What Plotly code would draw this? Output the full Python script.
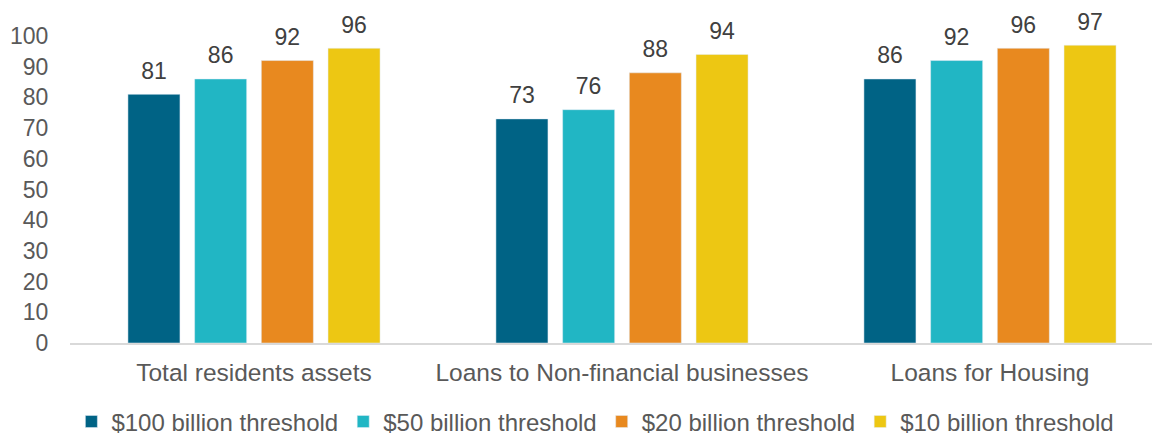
import plotly.graph_objects as go

categories = ["Total residents assets", "Loans to Non-financial businesses", "Loans for Housing"]
series_names = ["$100 billion threshold", "$50 billion threshold", "$20 billion threshold", "$10 billion threshold"]
v100 = [81, 73, 86]
v50 = [86, 76, 92]
v20 = [92, 88, 96]
v10 = [96, 94, 97]
colors = ["#006385", "#21B6C4", "#E8891F", "#EDC713"]

FONT = "Liberation Sans, Arial"
BARGAP = 0.275

fig = go.Figure()
for name, vals, col in zip(series_names, [v100, v50, v20, v10], colors):
    fig.add_trace(go.Bar(
        x=categories, y=vals, name=name, marker_color=col,
        offsetgroup=name, hoverinfo="x+y+name",
    ))
for name, vals in zip(series_names, [v100, v50, v20, v10]):
    fig.add_trace(go.Scatter(
        x=categories, y=vals, mode="markers+text", showlegend=False,
        offsetgroup=name,
        marker=dict(size=14, opacity=0),
        text=[str(v) for v in vals], textposition="top center",
        textfont=dict(size=23, color="#404040", family=FONT),
        cliponaxis=False, hoverinfo="skip",
    ))

fig.update_layout(
    width=1152, height=427,
    margin=dict(l=62, r=0, t=28, b=92, autoexpand=False),
    paper_bgcolor="white", plot_bgcolor="white",
    barmode="group", bargap=BARGAP, bargroupgap=0.22,
    scattermode="group", scattergap=BARGAP,
    font=dict(family=FONT, size=23, color="#595959"),
    showlegend=True,
    legend=dict(orientation="h", x=0.482, xanchor="center", y=-0.257, yanchor="middle",
                font=dict(size=24, color="#595959"), traceorder="normal",
                itemwidth=30, tracegroupgap=0),
    xaxis=dict(range=[-0.5, 2.462], showline=True, linecolor="#D9D9D9", linewidth=2,
               ticks="outside", ticklen=7, tickcolor="rgba(0,0,0,0)",
               tickfont=dict(size=24.5, color="#595959")),
    yaxis=dict(range=[0, 100], dtick=10, showgrid=False, zeroline=False,
               showline=False, ticks="outside", ticklen=16, tickcolor="rgba(0,0,0,0)",
               tickfont=dict(size=23, color="#595959")),
)

fig.write_html("out.html")
